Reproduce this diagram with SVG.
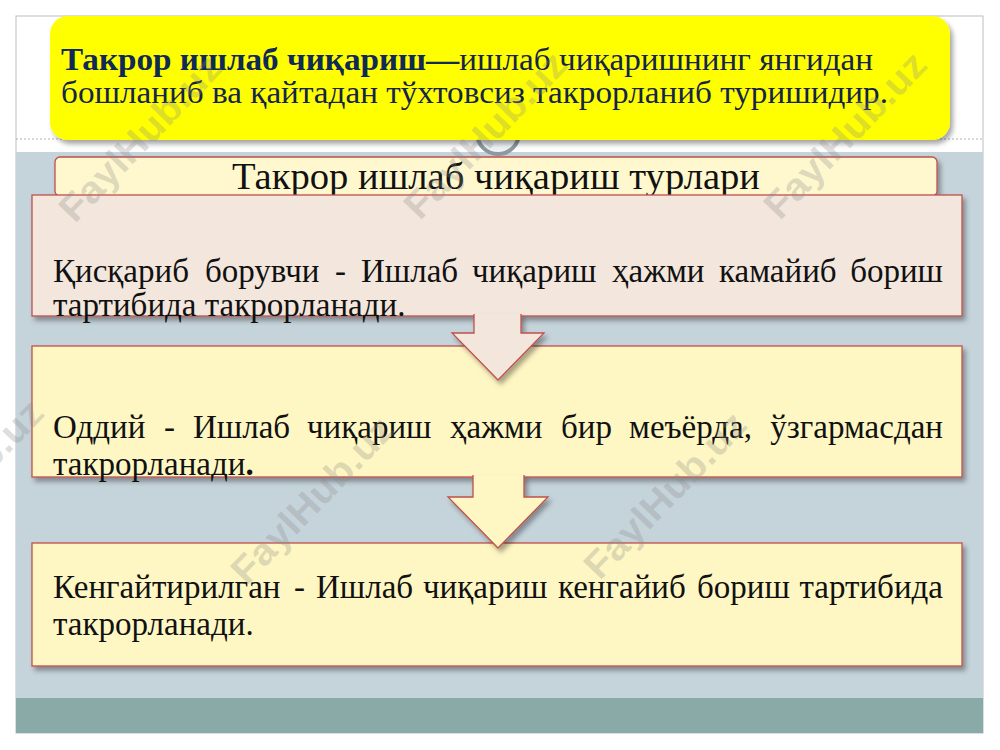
<svg xmlns="http://www.w3.org/2000/svg" width="1000" height="750" viewBox="0 0 1000 750">
<defs>
<style>
.box{stroke:#c0504d;stroke-width:1.3;filter:url(#sh)}
.t{font-family:"Liberation Serif","Times New Roman",serif;font-size:33px;fill:#111}
.wm{font-family:"Liberation Sans",Arial,sans-serif;font-weight:bold;font-size:38px;fill:#8a8a8a;fill-opacity:0.28}
</style>
<filter id="sh" x="-5%" y="-20%" width="115%" height="150%">
<feDropShadow dx="3" dy="4" stdDeviation="2.5" flood-color="#000" flood-opacity="0.35"/>
</filter>
</defs>
<rect x="0" y="0" width="1000" height="750" fill="#ffffff"/>
<g id="slide">
<rect x="16" y="16" width="967" height="717" fill="#ffffff" stroke="#b8bfc3" stroke-width="1"/>
<rect x="16" y="152" width="967" height="546" fill="#c5d3da"/>
<rect x="16" y="698" width="967" height="35" fill="#8aaaa8"/>
<line x1="16" y1="139" x2="983" y2="139" stroke="#b0b0b0" stroke-width="1" stroke-dasharray="2 2"/>
<circle cx="498" cy="133" r="21" fill="#eef2f4" stroke="#8c9aa0" stroke-width="4"/>
</g>
<g id="definition">
<rect x="50" y="16" width="900" height="124" rx="18" fill="#ffff00" filter="url(#sh)"/>
<text x="61" y="70" class="t" style="font-size:32px;fill:#14244a" textLength="812" lengthAdjust="spacingAndGlyphs"><tspan font-weight="bold" fill="#0f2a55">Такрор ишлаб чиқариш—</tspan>ишлаб чиқаришнинг янгидан</text>
<text x="61" y="103" class="t" style="font-size:32px;fill:#14244a" textLength="827" lengthAdjust="spacingAndGlyphs">бошланиб ва қайтадан тўхтовсиз такрорланиб туришидир.</text>
</g>
<g id="title">
<rect x="55" y="157" width="882" height="39" rx="5" fill="#fff8cf" class="box"/>
<text x="232" y="189" class="t" style="font-size:37px" textLength="528" lengthAdjust="spacingAndGlyphs">Такрор ишлаб чиқариш турлари</text>
</g>
<g id="box1">
<rect x="32" y="195" width="930" height="121" fill="#f3e6dc" class="box"/>
<text y="282" class="t"><tspan x="53">Қисқариб</tspan><tspan x="205">борувчи</tspan><tspan x="335">-</tspan><tspan x="361">Ишлаб</tspan><tspan x="472">чиқариш</tspan><tspan x="612">ҳажми</tspan><tspan x="719">камайиб</tspan><tspan x="943" text-anchor="end">бориш</tspan></text>
<text x="53" y="316" class="t">тартибида такрорланади.</text>
</g>
<g id="box2">
<rect x="32" y="346" width="930" height="131" fill="#fff7c3" class="box"/>
<text y="438" class="t"><tspan x="53">Оддий</tspan><tspan x="164">-</tspan><tspan x="193">Ишлаб</tspan><tspan x="307">чиқариш</tspan><tspan x="450">ҳажми</tspan><tspan x="561">бир</tspan><tspan x="629">меъёрда,</tspan><tspan x="943" text-anchor="end">ўзгармасдан</tspan></text>
<text x="53" y="475" class="t">такрорланади<tspan font-weight="bold">.</tspan></text>
</g>
<g id="box3">
<rect x="32" y="543" width="930" height="123" fill="#fff7c3" class="box"/>
<text y="598" class="t"><tspan x="53">Кенгайтирилган</tspan><tspan x="294">-</tspan><tspan x="316">Ишлаб</tspan><tspan x="423">чиқариш</tspan><tspan x="558">кенгайиб</tspan><tspan x="697">бориш</tspan><tspan x="943" text-anchor="end">тартибида</tspan></text>
<text x="53" y="635" class="t">такрорланади.</text>
</g>
<g id="connectors">
<path d="M474,314 V333 H452 L498,380 L544,333 H521 V314" fill="#f3e6dc" class="box"/>
<path d="M473,475 V497 H448 L498,548 L548,497 H524 V475" fill="#fff7c3" class="box"/>
</g>
<g id="watermarks">
<text class="wm" x="140" y="138" text-anchor="middle" transform="rotate(-46 140 138)" dy="13" textLength="215" lengthAdjust="spacingAndGlyphs">FaylHub.uz</text>
<text class="wm" x="485" y="135" text-anchor="middle" transform="rotate(-46 485 135)" dy="13" textLength="215" lengthAdjust="spacingAndGlyphs">FaylHub.uz</text>
<text class="wm" x="845" y="135" text-anchor="middle" transform="rotate(-46 845 135)" dy="13" textLength="215" lengthAdjust="spacingAndGlyphs">FaylHub.uz</text>
<text class="wm" x="-38" y="483" text-anchor="middle" transform="rotate(-46 -38 483)" dy="13" textLength="215" lengthAdjust="spacingAndGlyphs">FaylHub.uz</text>
<text class="wm" x="312" y="500" text-anchor="middle" transform="rotate(-46 312 500)" dy="13" textLength="215" lengthAdjust="spacingAndGlyphs">FaylHub.uz</text>
<text class="wm" x="665" y="495" text-anchor="middle" transform="rotate(-46 665 495)" dy="13" textLength="215" lengthAdjust="spacingAndGlyphs">FaylHub.uz</text>
</g>
</svg>
